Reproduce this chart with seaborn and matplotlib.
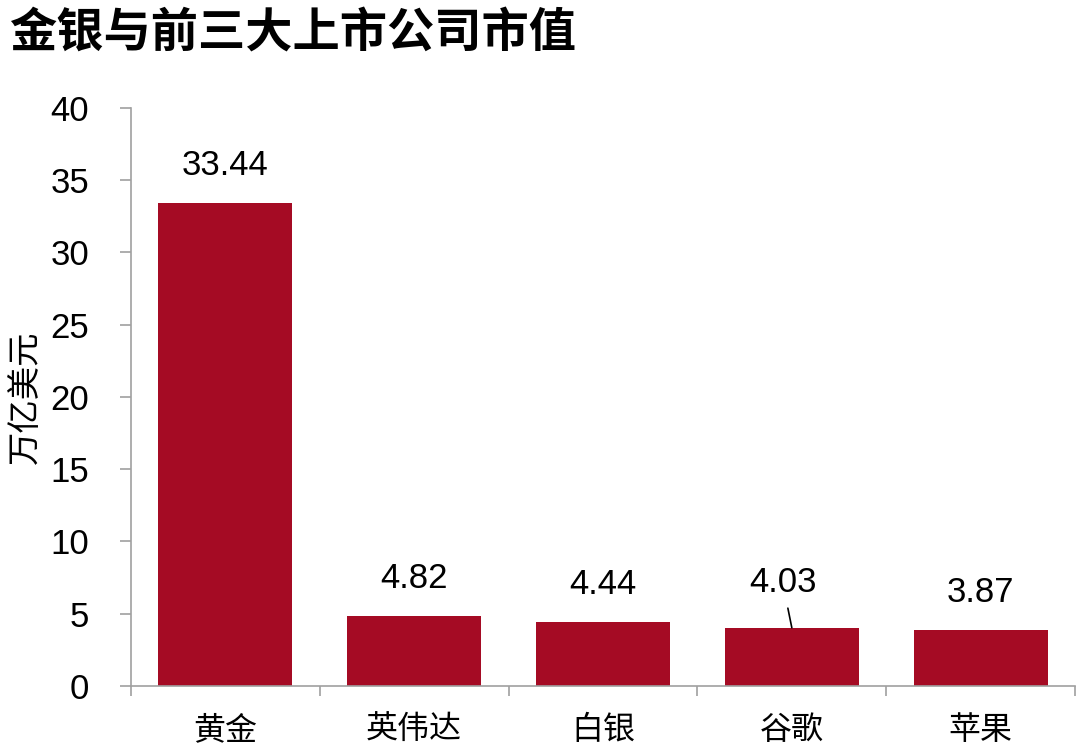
import matplotlib
matplotlib.use("Agg")
import matplotlib.pyplot as plt
import seaborn as sns
import pandas as pd

categories = ["黄金", "英伟达", "白银", "谷歌", "苹果"]
values = [33.44, 4.82, 4.44, 4.03, 3.87]
value_labels = ["33.44", "4.82", "4.44", "4.03", "3.87"]
yticks = [0, 5, 10, 15, 20, 25, 30, 35, 40]

sns.set_theme(style="white")
plt.rcParams['font.family'] = ['Liberation Sans', 'Noto Sans CJK SC', 'DejaVu Sans']
plt.rcParams['text.color'] = 'black'
plt.rcParams['axes.labelcolor'] = 'black'
cjk = ['Noto Sans CJK SC', 'DejaVu Sans']

df = pd.DataFrame({"cat": categories, "val": values})

fig = plt.figure(figsize=(10.8, 7.51), dpi=100)
ax = fig.add_axes([0.1213, 0.0866, 0.8741, 0.7696])
sns.barplot(data=df, x="cat", y="val", color="#A50B24", width=0.71, saturation=1,
            edgecolor="none", ax=ax)

ax.set_xlim(-0.5, len(categories) - 0.5)
ax.set_ylim(0, 40)
ax.set_yticks(yticks)
ax.set_yticklabels([str(t) for t in yticks], fontsize=25, color="black")
ax.set_xticks(range(len(categories)))
ax.set_xticklabels(categories, fontsize=23, family=cjk, color="black")
ax.tick_params(axis="x", length=0, pad=20)
ax.tick_params(axis="y", length=8, width=1.2, color="#A0A0A0", direction="out", pad=22, left=True)
# category boundary ticks on x axis
ax.set_xticks([i - 0.5 for i in range(len(categories) + 1)], minor=True)
ax.tick_params(axis="x", which="minor", length=7.5, width=1.2, color="#A0A0A0", direction="out", bottom=True)

for s in ["top", "right"]:
    ax.spines[s].set_visible(False)
for s in ["left", "bottom"]:
    ax.spines[s].set_color("#A0A0A0")
    ax.spines[s].set_linewidth(1.2)

ax.set_xlabel("")
ax.set_ylabel("万亿美元", fontsize=24, family=cjk)
ax.yaxis.set_label_coords(-0.093, 0.5)

for i, (v, lab) in enumerate(zip(values, value_labels)):
    if lab == "4.03":
        ax.annotate(lab, xy=(i, v), xytext=(i - 0.048, v + 3.1),
                    ha="center", va="center", fontsize=25,
                    arrowprops=dict(arrowstyle="-", color="black", lw=1.2, shrinkA=4, shrinkB=0))
    else:
        ax.annotate(lab, xy=(i, v), xytext=(0, 15), textcoords="offset points",
                    ha="center", va="bottom", fontsize=25)

fig.text(0.008, 0.956, "金银与前三大上市公司市值", fontsize=34, fontweight="bold",
         family=cjk, ha="left", va="center")

fig.savefig("out.png", dpi=100)
